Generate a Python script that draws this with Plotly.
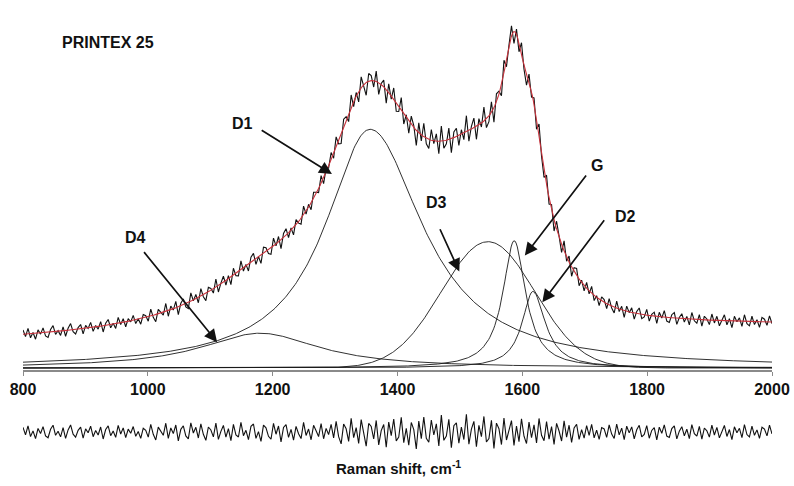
import numpy as np
import plotly.graph_objects as go

# ---------------- data ----------------
x_start, x_end = 800, 2000            # Raman shift range, cm-1
tick_values = [800, 1000, 1200, 1400, 1600, 1800, 2000]

# fitted bands: name, centre (cm-1), height (a.u.), half widths left/right, profile
band_names   = ["D1", "D4", "D3", "G", "D2"]
band_centers = [1356, 1180, 1545, 1587, 1617]
band_heights = [240, 35, 127, 128, 77]
band_hw_left = [88, 115, 88, 22, 21]
band_hw_right = [103, 115, 88, 22, 24]
band_shapes = ["L", "L", "G", "L", "L"]

# linear background under the fit (a.u. at 800 and 2000 cm-1)
background_ends = [25, 39]

# residual (measured - fit), sampled evenly from 800 to 2000 cm-1
residual = [
    4.2, -2.5, 5.6, -4.1, 1.0, -6.0, 3.2, -1.3, 4.8, -3.6, -5.2, 2.4, 6.1, -3.0, 0.6, -4.4,
    3.9, -5.8, 1.9, 6.4, -2.0, -4.6, 1.5, 4.3, -5.5, 2.8, -0.7, 5.2, -4.2, 1.3, -2.7, 4.5,
    -6.3, 2.2, 5.5, -3.3, 0.9, -4.8, 5.9, -1.8, 3.7, -5.0, 2.6, -1.1, 4.9, -3.9, 0.4, -5.7,
    3.4, 1.6,
    -4.6, 6.8, -2.1, -7.2, 4.4, 1.1, -3.0, 7.9, -5.8, 3.6, -1.4, 6.3, -8.0, 2.4, 5.6, -3.5,
    -6.2, 8.3, -0.9, 4.2, -5.4, 7.4, -2.1, -7.5, 4.5, 1.8, -4.4, 8.1, -6.6, 0.6, 5.9, -4.7,
    3.0, -7.8, 6.8, -2.6, -4.5, 8.7, -3.3, 1.5, -6.9, 5.1, 7.2, -5.7, 0.3, -8.4, 6.2, 3.8,
    -3.9, -6.5, 7.8, -2.0, 5.4, -8.9, 4.1, 6.6, -4.8, 2.3, -7.4, 5.0, -1.6, -5.9, 8.6, -3.1,
    2.7, -7.0, 6.0, 1.2, -4.1, 7.5, -6.1, 3.3, -2.4, 6.9, -5.3,
    9.5, -4.2, -10.7, 7.1, 2.9, -8.4, 12.3, -5.1, 3.9, -10.2, 11.1, -1.8, -12.8, 7.7, 5.0, -6.3,
    10.4, -11.6, 1.2, 6.8, -13.7, 9.0, -3.2, 11.7, -8.0, -4.5, 13.2, -9.6, 3.3, -11.9, 8.6, 2.1,
    -15.3, 9.9, -6.0, 13.5, -5.6, -9.2, 10.8, -2.7, 7.4, -12.5, 15.2, -7.5, -3.6, 11.4, -14.1, 5.7,
    8.3, -10.1, 4.4, -6.8, 16.0, -11.0, 2.6, 9.6, -13.2, 6.0, -4.1, 14.0, -9.0, -5.9, 10.5, -14.7,
    8.0, 3.0, -11.3, 12.6, -7.2, 1.4, 10.2, -12.0, 5.3, -8.7, 11.9, -3.8, -10.4, 8.9, -5.0, 6.5,
    -9.8, 12.2, -2.9, -7.9, 9.3, -6.4, 4.8, -11.2, 7.8, 0.9, -8.1, 10.0, -4.6, 6.1, -9.4, 3.6,
    7.0, -6.7, 2.2, -5.5,
    5.8, -3.1, 6.9, -5.2, 1.7, -6.6, 4.0, 2.8, -4.9, 6.4, -1.9, -5.8, 7.1, -2.6, 3.5, -6.9,
    5.2, -0.8, 4.6, -6.1, 2.0, 6.0, -4.3, -2.2, 5.7, -5.6, 1.4, 3.9, -7.0, 4.4, -1.2, 6.5,
    -3.7, -4.9, 3.1, 5.5, -6.2, 0.8, 4.8, -3.4, 2.5, -5.9, 6.7, -1.5, -3.8, 5.0, -6.4, 3.6,
    1.0, -4.6, 6.2, -2.7, 4.1, -5.3, 0.5, 5.9, -4.0, 2.2, -6.8, 4.7, -0.6, 3.3, -5.1, 6.6,
    -2.3, -4.4, 5.3, -3.0, 1.9, -5.7, 4.3, 2.6, -3.5, 6.1, -1.7,
]

# label texts and positions (cm-1, a.u.), arrow tail -> head
label_texts = ["D1", "D4", "D3", "G", "D2"]
label_x = [1151, 981, 1463, 1720, 1765]
label_y = [246, 131, 166, 204, 152]
arrow_tail_x = [1180, 992, 1467, 1704, 1733]
arrow_tail_y = [240, 118, 141, 195, 150]
arrow_head_x = [1295, 1111, 1499, 1604, 1632]
arrow_head_y = [195, 26, 97, 113, 66]

sample_name = "PRINTEX 25"
x_title = "Raman shift, cm<sup>-1</sup>"


# ---------------- build curves ----------------
def band_profile(xv, c, h, wl, wr, shape):
    w = np.where(xv < c, wl, wr)
    d = (xv - c) / w
    if shape == "L":
        return h / (1.0 + d ** 2)
    return h * np.exp(-np.log(2.0) * d ** 2)


def fit_curve(xv):
    total = background_ends[0] + (background_ends[1] - background_ends[0]) * (xv - x_start) / (x_end - x_start)
    for c, h, wl, wr, s in zip(band_centers, band_heights, band_hw_left, band_hw_right, band_shapes):
        total = total + band_profile(xv, c, h, wl, wr, s)
    return total


x_data = np.linspace(x_start, x_end, len(residual))
x_fine = np.arange(x_start, x_end + 1, 2.0)
spectrum = fit_curve(x_data) + np.array(residual)

fig = go.Figure()

for c, h, wl, wr, s, nm in zip(band_centers, band_heights, band_hw_left, band_hw_right, band_shapes, band_names):
    fig.add_trace(go.Scatter(x=x_fine, y=band_profile(x_fine, c, h, wl, wr, s), mode="lines",
                             line=dict(color="#1a1a1a", width=0.9), name=nm,
                             xaxis="x", yaxis="y"))

fig.add_trace(go.Scatter(x=x_data, y=spectrum, mode="lines",
                         line=dict(color="#111111", width=1.1), name="spectrum",
                         xaxis="x", yaxis="y"))
fig.add_trace(go.Scatter(x=x_fine, y=fit_curve(x_fine), mode="lines",
                         line=dict(color="#c8323c", width=1.1), name="fit",
                         xaxis="x", yaxis="y"))
fig.add_trace(go.Scatter(x=x_data, y=residual, mode="lines",
                         line=dict(color="#111111", width=1.1), name="residual",
                         xaxis="x2", yaxis="y2"))

W, H = 794, 486
font_family = "Liberation Sans, Arial, sans-serif"

annotations = []
for t, lx, ly in zip(label_texts, label_x, label_y):
    annotations.append(dict(x=lx, y=ly, xref="x", yref="y", text="<b>%s</b>" % t,
                            xanchor="center", yanchor="middle",
                            showarrow=False, font=dict(size=16, color="#111", family=font_family)))
for tx, ty, hx, hy in zip(arrow_tail_x, arrow_tail_y, arrow_head_x, arrow_head_y):
    annotations.append(dict(x=hx, y=hy, xref="x", yref="y", ax=tx, ay=ty, axref="x", ayref="y",
                            text="", showarrow=True, arrowhead=2, arrowsize=1.5, arrowwidth=1.7,
                            arrowcolor="#111", standoff=0, startstandoff=0))
annotations.append(dict(x=108 / W, y=1 - 43 / H, xref="paper", yref="paper", text="<b>%s</b>" % sample_name,
                        xanchor="center", yanchor="middle",
                        showarrow=False, font=dict(size=16, color="#111", family=font_family)))
annotations.append(dict(x=398 / W, y=1 - 467 / H, xref="paper", yref="paper", text="<b>%s</b>" % x_title,
                        xanchor="center", yanchor="middle",
                        showarrow=False, font=dict(size=15, color="#111", family=font_family)))

fig.update_layout(
    width=W, height=H, autosize=False,
    margin=dict(l=0, r=0, t=0, b=0, pad=0, autoexpand=False),
    paper_bgcolor="white", plot_bgcolor="white",
    showlegend=False,
    font=dict(family=font_family, color="#111"),
    xaxis=dict(domain=[23 / W, 772 / W], range=[x_start, x_end], anchor="y",
               tickvals=tick_values, ticktext=["<b>%d</b>" % v for v in tick_values],
               tickfont=dict(size=16, family=font_family, color="#111"),
               showline=True, linecolor="#8a8a8a", linewidth=1.5,
               ticks="outside", ticklen=4, tickcolor="#8a8a8a", tickwidth=1,
               showgrid=False, zeroline=False, mirror=False, automargin=False),
    yaxis=dict(domain=[(H - 370) / H, 1], range=[-2, 370], visible=False, anchor="x", automargin=False),
    xaxis2=dict(domain=[23 / W, 772 / W], range=[x_start, x_end], anchor="y2", visible=False,
                matches="x"),
    yaxis2=dict(domain=[(H - 452) / H, (H - 412) / H], range=[-18, 18], visible=False, anchor="x2"),
    annotations=annotations,
)

fig.write_html(
    "out.html",
    config={"responsive": False, "displayModeBar": False},
    post_script="document.body.style.margin='0';document.body.style.overflow='hidden';",
)
